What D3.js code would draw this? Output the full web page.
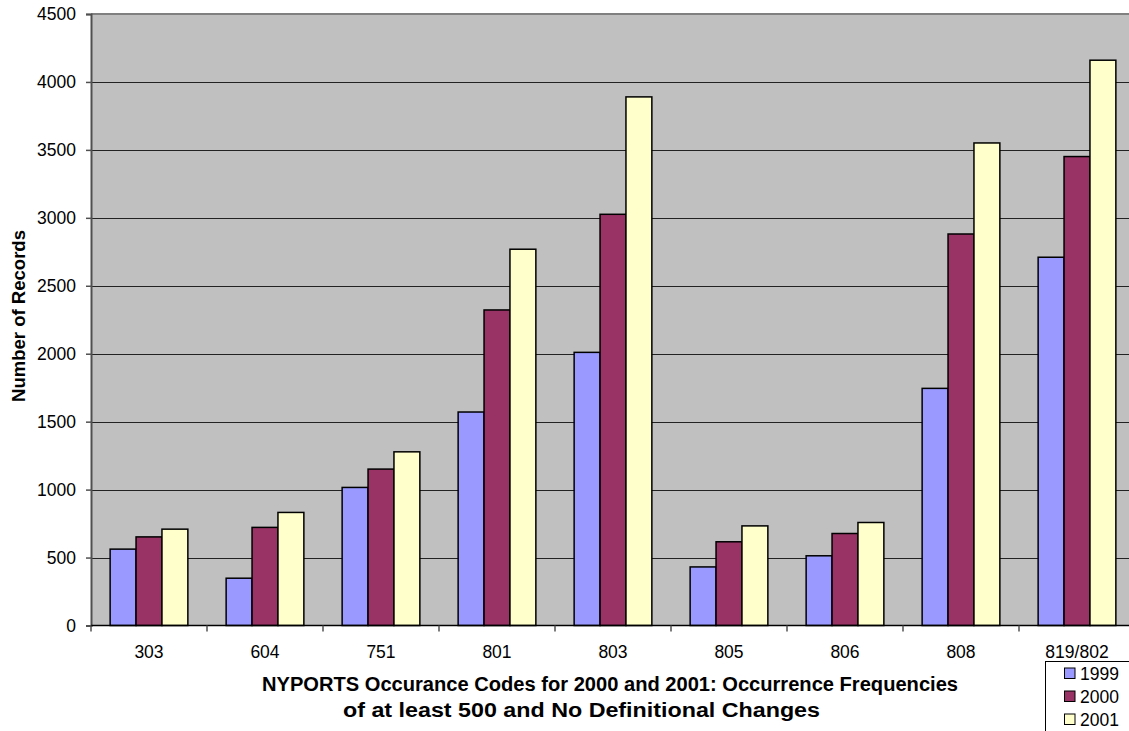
<!DOCTYPE html>
<html>
<head>
<meta charset="utf-8">
<script src="https://cdn.jsdelivr.net/npm/d3@7"></script>
<style>
  html, body { margin: 0; padding: 0; background: #fff; overflow: hidden; }
  svg { display: block; font-family: "Liberation Sans", Arial, sans-serif; }
</style>
</head>
<body>
<svg id="chart" width="1129" height="731"></svg>
<script>
// Occurrence codes and yearly record counts
const categories = ["303", "604", "751", "801", "803", "805", "806", "808", "819/802"];
const seriesNames = ["1999", "2000", "2001"];
const values1999 = [562, 348, 1016, 1571, 2010, 431, 513, 1745, 2710];
const values2000 = [652, 722, 1151, 2322, 3026, 616, 677, 2881, 3451];
const values2001 = [709, 832, 1278, 2769, 3890, 733, 758, 3551, 4160];
const yTicks = [0, 500, 1000, 1500, 2000, 2500, 3000, 3500, 4000, 4500];
const seriesColors = ["#9999FF", "#993366", "#FFFFCC"];

(function () {
  const seriesValues = [values1999, values2000, values2001];
  const rows = categories.map((c, i) => ({
    code: c,
    vals: seriesNames.map((s, j) => ({ year: s, value: seriesValues[j][i], idx: j }))
  }));

  const svg = d3.select("#chart");
  const plotLeft = 91, plotRight = 1135, plotTop = 14, plotBottom = 625.5;

  const x = d3.scaleBand().domain(categories).range([plotLeft, plotRight])
    .paddingInner(0.33).paddingOuter(0.165);
  const xs = d3.scaleBand().domain(seriesNames).range([0, x.bandwidth()]);
  const y = d3.scaleLinear().domain([0, 4500]).range([plotBottom, plotTop]);

  // plot background
  svg.append("rect")
    .attr("x", plotLeft).attr("y", plotTop)
    .attr("width", plotRight - plotLeft).attr("height", plotBottom - plotTop)
    .attr("fill", "#C0C0C0");

  // horizontal gridlines
  svg.append("g").selectAll("line")
    .data(yTicks.filter(t => t > 0 && t < 4500))
    .join("line")
    .attr("x1", plotLeft).attr("x2", plotRight)
    .attr("y1", d => Math.round(y(d)) + 0.5).attr("y2", d => Math.round(y(d)) + 0.5)
    .attr("stroke", "#222").attr("stroke-width", 1.2);

  // top border of plot area
  svg.append("line")
    .attr("x1", plotLeft).attr("x2", plotRight)
    .attr("y1", y(4500)).attr("y2", y(4500))
    .attr("stroke", "#808080").attr("stroke-width", 2);

  // bars
  const groups = svg.append("g").selectAll("g")
    .data(rows).join("g")
    .attr("transform", d => `translate(${x(d.code)},0)`);

  groups.selectAll("rect")
    .data(d => d.vals).join("rect")
    .attr("x", d => xs(d.year))
    .attr("y", d => y(d.value))
    .attr("width", xs.bandwidth())
    .attr("height", d => y(0) - y(d.value))
    .attr("fill", d => seriesColors[d.idx])
    .attr("stroke", "#000")
    .attr("stroke-width", 1.5);

  // y axis
  const yAxis = d3.axisLeft(y).tickValues(yTicks).tickSize(5).tickPadding(10).tickFormat(d3.format("d"));
  const gy = svg.append("g").attr("transform", `translate(${plotLeft},0)`).call(yAxis);
  gy.select(".domain").attr("stroke", "#505050").attr("stroke-width", 2);
  gy.selectAll(".tick line").attr("stroke", "#505050").attr("stroke-width", 1.5);
  gy.selectAll(".tick text").attr("font-size", 17.5).attr("fill", "#000")
    .attr("font-family", "Liberation Sans, Arial, sans-serif");

  // x axis: ticks between categories
  const gx = svg.append("g");
  gx.append("line")
    .attr("x1", plotLeft).attr("x2", plotRight)
    .attr("y1", plotBottom).attr("y2", plotBottom)
    .attr("stroke", "#000").attr("stroke-width", 1.5);
  const boundaries = categories.map(c => x(c) - x.step() * x.paddingInner() / 2);
  gx.selectAll(".xt").data(boundaries).join("line")
    .attr("class", "xt")
    .attr("x1", d => d).attr("x2", d => d)
    .attr("y1", plotBottom).attr("y2", plotBottom + 6)
    .attr("stroke", "#505050").attr("stroke-width", 1.5);
  gx.selectAll("text").data(categories).join("text")
    .attr("x", d => x(d) + x.bandwidth() / 2)
    .attr("y", 658)
    .attr("text-anchor", "middle")
    .attr("font-size", 17.5)
    .text(d => d);

  // axis titles
  svg.append("text")
    .attr("transform", "translate(24.5,316) rotate(-90)")
    .attr("text-anchor", "middle")
    .attr("font-size", 17.5).attr("font-weight", "bold")
    .attr("textLength", 172).attr("lengthAdjust", "spacingAndGlyphs")
    .text("Number of Records");

  svg.append("text")
    .attr("x", 610).attr("y", 691)
    .attr("text-anchor", "middle")
    .attr("font-size", 19.5).attr("font-weight", "bold")
    .attr("textLength", 696).attr("lengthAdjust", "spacingAndGlyphs")
    .text("NYPORTS Occurance Codes for 2000 and 2001: Occurrence Frequencies");
  svg.append("text")
    .attr("x", 581.5).attr("y", 717)
    .attr("text-anchor", "middle")
    .attr("font-size", 19.5).attr("font-weight", "bold")
    .attr("textLength", 477).attr("lengthAdjust", "spacingAndGlyphs")
    .text("of at least 500 and No Definitional Changes");

  // legend
  const legend = svg.append("g").attr("transform", "translate(1045,661)");
  legend.append("rect")
    .attr("x", 0.5).attr("y", 0.5).attr("width", 120).attr("height", 100)
    .attr("fill", "#fff").attr("stroke", "#000").attr("stroke-width", 1);
  const items = legend.selectAll(".item").data(seriesNames).join("g")
    .attr("class", "item")
    .attr("transform", (d, i) => `translate(0,${i * 23})`);
  items.append("rect")
    .attr("x", 19.5).attr("y", 7).attr("width", 10.5).attr("height", 10.5)
    .attr("fill", (d, i) => seriesColors[i]).attr("stroke", "#000").attr("stroke-width", 1);
  items.append("text")
    .attr("x", 35).attr("y", 19)
    .attr("font-size", 17.5)
    .text(d => d);
})();
</script>
</body>
</html>
